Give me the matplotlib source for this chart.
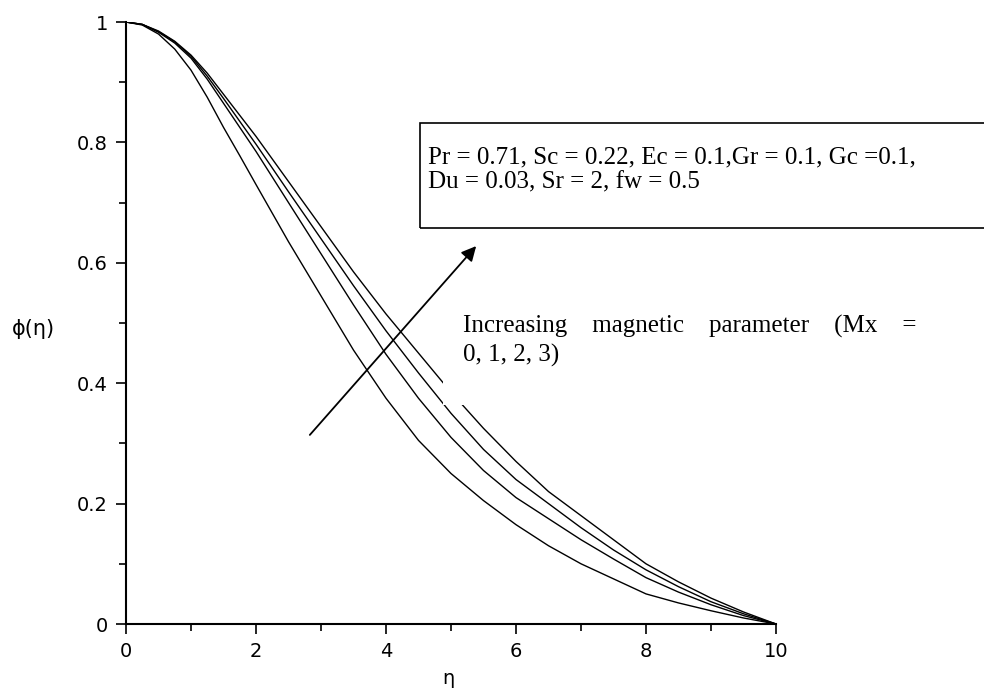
import numpy as np
import matplotlib
matplotlib.use("Agg")
import matplotlib.pyplot as plt
from matplotlib.patches import Rectangle

# eta grid and phi(eta), Mx = 0, 1, 2, 3
eta = [0, 0.25, 0.5, 0.75, 1.0, 1.25, 1.5, 1.75, 2.0, 2.5, 3.0, 3.5, 4.0, 4.5, 5.0,
       5.5, 6.0, 6.5, 7.0, 7.5, 8.0, 8.5, 9.0, 9.5, 10.0]
phi_mx0 = [1.0, 0.995, 0.980, 0.955, 0.920, 0.875, 0.825, 0.778, 0.730, 0.635, 0.545, 0.455,
           0.375, 0.305, 0.250, 0.205, 0.165, 0.130, 0.100, 0.075, 0.050, 0.035, 0.022, 0.010, 0.0]
phi_mx1 = [1.0, 0.996, 0.983, 0.965, 0.940, 0.905, 0.865, 0.825, 0.785, 0.700, 0.615, 0.530,
           0.448, 0.375, 0.310, 0.255, 0.210, 0.175, 0.140, 0.108, 0.077, 0.053, 0.032, 0.014, 0.0]
phi_mx2 = [1.0, 0.996, 0.984, 0.967, 0.943, 0.910, 0.873, 0.835, 0.797, 0.718, 0.640, 0.562,
           0.487, 0.417, 0.350, 0.290, 0.240, 0.200, 0.160, 0.123, 0.090, 0.062, 0.037, 0.017, 0.0]
phi_mx3 = [1.0, 0.996, 0.985, 0.968, 0.945, 0.915, 0.880, 0.845, 0.810, 0.735, 0.660, 0.585,
           0.515, 0.450, 0.385, 0.325, 0.270, 0.220, 0.180, 0.140, 0.100, 0.070, 0.043, 0.020, 0.0]

xticks = [0, 2, 4, 6, 8, 10]
yticks = [0, 0.2, 0.4, 0.6, 0.8, 1]
ytick_labels = ["0", "0.2", "0.4", "0.6", "0.8", "1"]

box_line1 = "Pr = 0.71, Sc = 0.22, Ec = 0.1,Gr = 0.1, Gc =0.1,"
box_line2 = "Du = 0.03, Sr = 2, fw = 0.5"
note_line1 = "Increasing    magnetic    parameter    (Mx    ="
note_line2 = "0, 1, 2, 3)"

W, H = 984, 691
fig = plt.figure(figsize=(W / 100, H / 100), dpi=100)
ax = fig.add_axes([126 / W, 1 - 624 / H, 650 / W, 602 / H])

for phi in (phi_mx0, phi_mx1, phi_mx2, phi_mx3):
    ax.plot(eta, phi, color="black", lw=1.0)

ax.set_xlim(0, 10)
ax.set_ylim(0, 1)
ax.set_xticks(xticks)
ax.set_xticks(np.arange(1, 10, 2), minor=True)
ax.set_yticks(yticks)
ax.set_yticklabels(ytick_labels)
ax.set_yticks(np.arange(0.1, 1.0, 0.2), minor=True)
ax.spines["top"].set_visible(False)
ax.spines["right"].set_visible(False)
for s in ("left", "bottom"):
    ax.spines[s].set_linewidth(1.5)
ax.tick_params(which="major", length=7, width=1.2, labelsize=14, pad=6)
ax.tick_params(which="minor", length=5, width=1.2)

fig.text(33 / W, 1 - 329 / H, "ϕ(η)", ha="center", va="center", fontsize=15)
fig.text(448 / W, 1 - 678 / H, "η", ha="center", va="center", fontsize=14)

# parameter box (runs off the right edge)
fig.patches.append(Rectangle((420 / W, 1 - 228 / H), 0.6, 105 / H, transform=fig.transFigure,
                             fill=False, edgecolor="black", lw=1.2, zorder=2))
serif = "Liberation Serif"
fig.text(428 / W, 1 - 157 / H, box_line1, family=serif, fontsize=18, va="center", zorder=3)
fig.text(428 / W, 1 - 182 / H, box_line2, family=serif, fontsize=18, va="center", zorder=3)

# white background behind the note, hides part of the curves
fig.patches.append(Rectangle((443 / W, 1 - 405 / H), 520 / W, 110 / H, transform=fig.transFigure,
                             facecolor="white", edgecolor="none", zorder=2))
fig.text(463 / W, 1 - 326 / H, note_line1, family=serif, fontsize=18, va="center", zorder=3)
fig.text(463 / W, 1 - 355 / H, note_line2, family=serif, fontsize=18, va="center", zorder=3)

ax.annotate("", xy=(478 / W, 1 - 244 / H), xytext=(308 / W, 1 - 437 / H),
            xycoords="figure fraction", textcoords="figure fraction",
            arrowprops=dict(arrowstyle="-|>", color="black", lw=1.3, mutation_scale=22))

fig.savefig("out.png", dpi=100)
